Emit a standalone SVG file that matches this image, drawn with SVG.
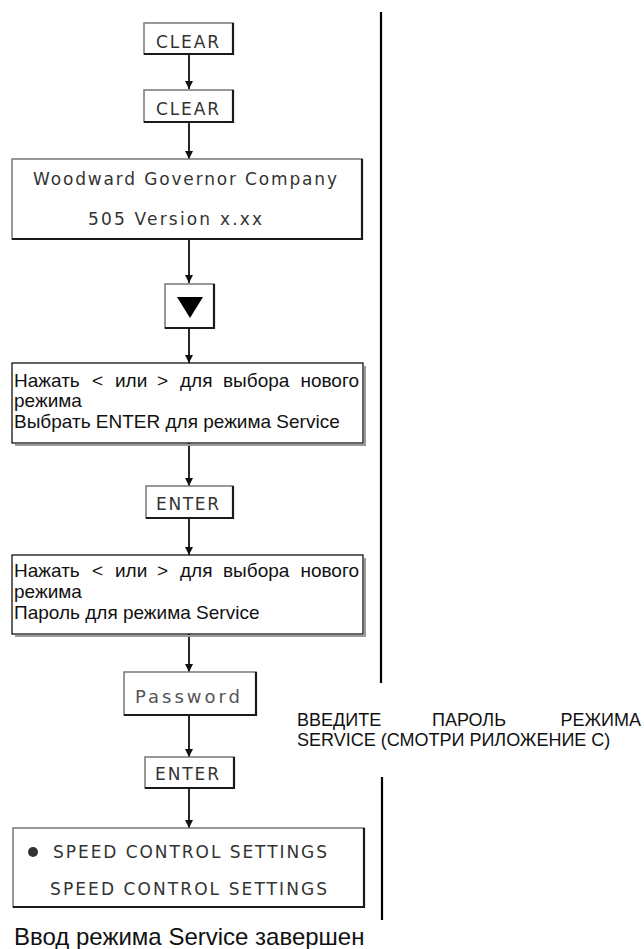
<svg xmlns="http://www.w3.org/2000/svg" width="644" height="949" viewBox="0 0 644 949">
  <style>
    .key { fill: #fff; stroke: #777; stroke-width: 1.5; }
    .keyedge { fill: none; stroke: #1a1a1a; stroke-width: 2.2; }
    .panel { fill: #fff; stroke: #111; stroke-width: 1.3; }
    .shadow { fill: none; stroke: #9a9a9a; stroke-width: 2; }
    .lcd { font-family: "DejaVu Sans", "Liberation Sans", sans-serif; font-size: 17px; fill: #333; }
    .ru { font-family: "Liberation Sans", Arial, sans-serif; font-size: 19px; fill: #111; }
    .note { font-family: "Liberation Sans", Arial, sans-serif; font-size: 18px; fill: #111; }
    .cap { font-family: "Liberation Sans", Arial, sans-serif; font-size: 24px; fill: #111; }
    .link { fill: none; stroke: #111; stroke-width: 1.8; }
    .rule { stroke: #000; stroke-width: 2.2; }
  </style>
  <defs>
    <marker id="arrow" viewBox="0 0 10 10" refX="10" refY="5" markerUnits="userSpaceOnUse" markerWidth="12" markerHeight="8" orient="auto">
      <path d="M0,0 L10,5 L0,10 z" fill="#111"/>
    </marker>
  </defs>

  <rect width="644" height="949" fill="#fff"/>

  <!-- side rules -->
  <g id="rules">
    <line class="rule" x1="381" y1="12" x2="381" y2="683"/>
    <line class="rule" x1="382" y1="777" x2="382" y2="920"/>
  </g>

  <!-- connectors -->
  <g id="connectors">
    <line class="link" x1="189" y1="54" x2="189" y2="89" marker-end="url(#arrow)"/>
    <line class="link" x1="189" y1="122" x2="189" y2="159" marker-end="url(#arrow)"/>
    <line class="link" x1="189" y1="239" x2="189" y2="283" marker-end="url(#arrow)"/>
    <line class="link" x1="189" y1="328" x2="189" y2="363" marker-end="url(#arrow)"/>
    <line class="link" x1="189" y1="443" x2="189" y2="486" marker-end="url(#arrow)"/>
    <line class="link" x1="189" y1="518" x2="189" y2="555" marker-end="url(#arrow)"/>
    <line class="link" x1="189" y1="634" x2="189" y2="672" marker-end="url(#arrow)"/>
    <line class="link" x1="189" y1="715" x2="189" y2="757" marker-end="url(#arrow)"/>
    <line class="link" x1="189" y1="788" x2="189" y2="828" marker-end="url(#arrow)"/>
  </g>

  <g id="clear1">
    <rect class="key" x="144" y="23" width="89" height="31"/>
    <path class="keyedge" d="M233,23 V54 H144"/>
    <text class="lcd" x="156" y="48" textLength="63" lengthAdjust="spacing">CLEAR</text>
  </g>

  <g id="clear2">
    <rect class="key" x="144" y="90" width="89" height="32"/>
    <path class="keyedge" d="M233,90 V122 H144"/>
    <text class="lcd" x="156" y="115" textLength="63" lengthAdjust="spacing">CLEAR</text>
  </g>

  <g id="banner">
    <rect class="key" x="12" y="159" width="350" height="80"/>
    <path class="keyedge" d="M362,159 V239 H12"/>
    <text class="lcd" x="33" y="185" textLength="304" lengthAdjust="spacing">Woodward  Governor  Company</text>
    <text class="lcd" x="88" y="225" textLength="174" lengthAdjust="spacing">505  Version  x.xx</text>
  </g>

  <g id="scroll-down">
    <rect class="key" x="165" y="284" width="49" height="44"/>
    <path class="keyedge" d="M214,284 V328 H165"/>
    <path d="M177,297 L203,297 L190,318 z" fill="#000"/>
  </g>

  <g id="mode-select">
    <path class="shadow" d="M365,366 V445 H15"/>
    <rect class="panel" x="12" y="363" width="351" height="80"/>
    <text class="ru" y="387"><tspan x="14">Нажать</tspan><tspan x="92">&lt;</tspan><tspan x="115">или</tspan><tspan x="157">&gt;</tspan><tspan x="180">для</tspan><tspan x="223">выбора</tspan></text>
    <text class="ru" x="359" y="387" text-anchor="end">нового</text>
    <text class="ru" x="14" y="407">режима</text>
    <text class="ru" x="14" y="428">Выбрать ENTER для режима Service</text>
  </g>

  <g id="enter1">
    <rect class="key" x="146" y="486" width="87" height="32"/>
    <path class="keyedge" d="M233,486 V518 H146"/>
    <text class="lcd" x="156" y="510" textLength="63" lengthAdjust="spacing">ENTER</text>
  </g>

  <g id="password-prompt">
    <path class="shadow" d="M365,558 V636 H15"/>
    <rect class="panel" x="12" y="555" width="351" height="79"/>
    <text class="ru" y="577"><tspan x="14">Нажать</tspan><tspan x="92">&lt;</tspan><tspan x="115">или</tspan><tspan x="157">&gt;</tspan><tspan x="180">для</tspan><tspan x="223">выбора</tspan></text>
    <text class="ru" x="359" y="577" text-anchor="end">нового</text>
    <text class="ru" x="14" y="598">режима</text>
    <text class="ru" x="14" y="619">Пароль для режима Service</text>
  </g>

  <g id="password">
    <rect class="key" x="124" y="672" width="132" height="43"/>
    <path class="keyedge" d="M256,672 V715 H124"/>
    <text class="lcd" x="135" y="703" textLength="105" lengthAdjust="spacing" style="fill:#555;font-size:18px">Password</text>
  </g>

  <g id="enter2">
    <rect class="key" x="145" y="757" width="89" height="31"/>
    <path class="keyedge" d="M234,757 V788 H145"/>
    <text class="lcd" x="155" y="780" textLength="64" lengthAdjust="spacing">ENTER</text>
  </g>

  <g id="service-menu">
    <rect class="key" x="13" y="828" width="351" height="79"/>
    <path class="keyedge" d="M364,828 V907 H13"/>
    <circle cx="33" cy="852" r="5" fill="#333"/>
    <text class="lcd" x="53" y="858" textLength="274" lengthAdjust="spacing">SPEED  CONTROL  SETTINGS</text>
    <text class="lcd" x="50" y="895" textLength="277" lengthAdjust="spacing">SPEED  CONTROL  SETTINGS</text>
  </g>

  <!-- side note -->
  <g id="note">
    <text class="note" x="297" y="726">ВВЕДИТЕ</text>
    <text class="note" x="432" y="726">ПАРОЛЬ</text>
    <text class="note" x="641" y="726" text-anchor="end">РЕЖИМА</text>
    <text class="note" x="297" y="746">SERVICE (СМОТРИ РИЛОЖЕНИЕ С)</text>
  </g>

  <text class="cap" x="14" y="945">Ввод режима Service завершен</text>
</svg>
